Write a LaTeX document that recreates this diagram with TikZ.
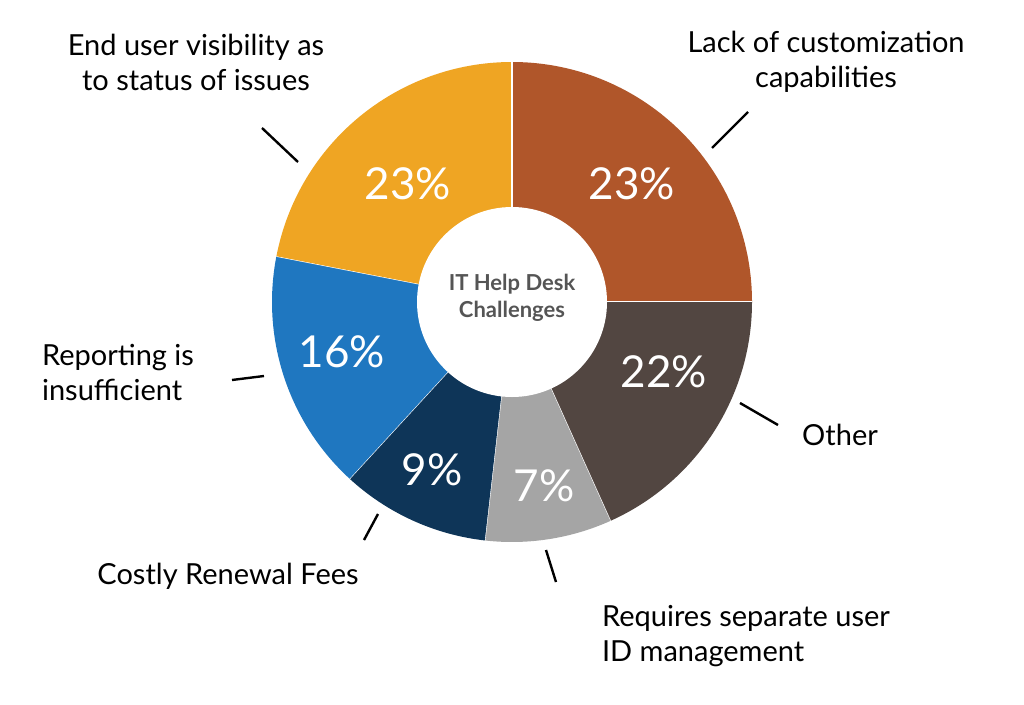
\documentclass[tikz,border=0pt]{standalone}
\usepackage{fontspec}
\setmainfont{Lato}
\definecolor{cbrown}{HTML}{B0562A}
\definecolor{cdark}{HTML}{524641}
\definecolor{clgray}{HTML}{A5A5A5}
\definecolor{cnavy}{HTML}{0E3558}
\definecolor{cblue}{HTML}{1F77C0}
\definecolor{corange}{HTML}{EFA523}
\definecolor{ctitle}{HTML}{555555}
\begin{document}
\begin{tikzpicture}[x=1pt,y=-1pt,
  pct/.style={text=white,font=\fontsize{44}{44}\selectfont},
  lbl/.style={font=\fontsize{29}{35}\selectfont,align=center},
  lead/.style={line width=2.4pt}]
\useasboundingbox (0,0) rectangle (1024,704);
\coordinate (c) at (512,302);
\def\R{240}\def\r{95}
\foreach \a/\b/\col in {0/-90/cbrown,65.8/0/cdark,96.5/65.8/clgray,132.6/96.5/cnavy,191/132.6/cblue,270/191/corange}{
  \fill[\col] (c) ++(\a:\R) arc[start angle=\a,end angle=\b,radius=\R] -- (c) -- cycle;
  \draw[white,line width=1.2pt] (c) -- ++(\a:\R);
}
\node[circle,fill=white,minimum size=190pt,inner sep=0pt] (hole) at (c) {};
\node[text=ctitle,font=\bfseries\fontsize{22}{27}\selectfont,align=center] (t) at (512,298) {IT Help Desk\\Challenges};
\node[pct] (p1) at (408,184) {23\%};
\node[pct] (p2) at (632,184) {23\%};
\node[pct] (p3) at (664,372) {22\%};
\node[pct] (p4) at (544,486) {7\%};
\node[pct] (p5) at (432,470) {9\%};
\node[pct] (p6) at (342,352) {16\%};
\node[lbl] (l1) at (196,62) {End user visibility as\\to status of issues};
\node[lbl] (l2) at (826,62) {Lack of customization\\capabilities};
\node[lbl] (l3) at (840,435) {Other};
\node[lbl,align=left] (l4) at (746,636) {Requires separate user\\ID management};
\node[lbl] (l5) at (228,576) {Costly Renewal Fees};
\node[lbl,align=left] (l6) at (118,372) {Reporting is\\insufficient};
\coordinate (a1) at (262,128); \coordinate (b1) at (298,162);
\coordinate (a2) at (748,112); \coordinate (b2) at (712,148);
\coordinate (a3) at (778,425); \coordinate (b3) at (740,403);
\coordinate (a4) at (556,582); \coordinate (b4) at (546,550);
\coordinate (a5) at (364,540); \coordinate (b5) at (378,514);
\coordinate (a6) at (232,380); \coordinate (b6) at (264,376);
\foreach \i in {1,...,6} \draw[lead] (a\i) -- (b\i);
\end{tikzpicture}
\end{document}
